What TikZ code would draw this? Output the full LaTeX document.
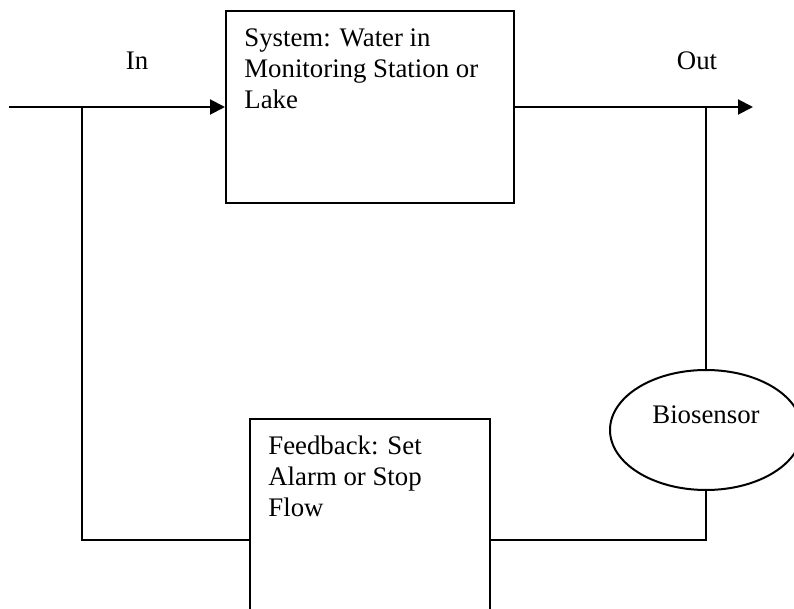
\documentclass[tikz,border=0pt]{standalone}
\usepackage{fontspec}
\setmainfont{Liberation Serif}
\usepackage{tikz}
\usetikzlibrary{arrows.meta,positioning,shapes.geometric}
\tikzset{
  block/.style={draw=black,line width=1pt,inner sep=0pt},
  boxtext/.style={font=\fontsize{13.4}{15.5}\selectfont,align=left,anchor=north west,
    inner xsep=9.5pt,inner ysep=9pt},
  sensor/.style={draw=black,ellipse,line width=1pt,minimum width=96pt,minimum height=60pt,
    inner sep=0pt,text depth=15pt,font=\fontsize{13.4}{15.5}\selectfont},
  tag/.style={font=\fontsize{13.4}{15.5}\selectfont,anchor=base,inner sep=0pt},
  flowline/.style={draw=black,line width=1pt},
  arrow/.style={flowline,-{Triangle[length=7.5pt,width=7.5pt]}}
}
\begin{document}
\begin{tikzpicture}[x=0.5pt,y=-0.5pt]
        \useasboundingbox (0,0) rectangle (794,609);
        \node[block,minimum width=144pt,minimum height=96pt,
          label={[boxtext]north west:{System: Water in\\Monitoring Station or\\Lake}}] (sys) at (370,107) {};
        \node[block,minimum width=120pt,minimum height=121pt,
          label={[boxtext]north west:{Feedback: Set\\Alarm or Stop\\Flow}}] (fb) at (370,540) {};
        \node[sensor] (bio) at (706,430) {Biosensor};
        \node[tag] (inlbl) at (137,70) {In};
        \node[tag] (outlbl) at (697,70) {Out};
        \coordinate (src) at (9,107);
        \coordinate (split) at (82,107);
        \coordinate (tap) at (706,107);
        \coordinate (sink) at (753,107);
        \draw[flowline] (src) -- (split);
        \draw[arrow] (split) -- (sys.west);
        \draw[flowline] (sys.east) -- (tap);
        \draw[arrow] (tap) -- (sink);
        \draw[flowline] (tap) -- (bio.north);
        \draw[flowline] (bio.south) |- (fb.east);
        \draw[flowline] (split) |- (fb.west);
      \end{tikzpicture}
\end{document}
